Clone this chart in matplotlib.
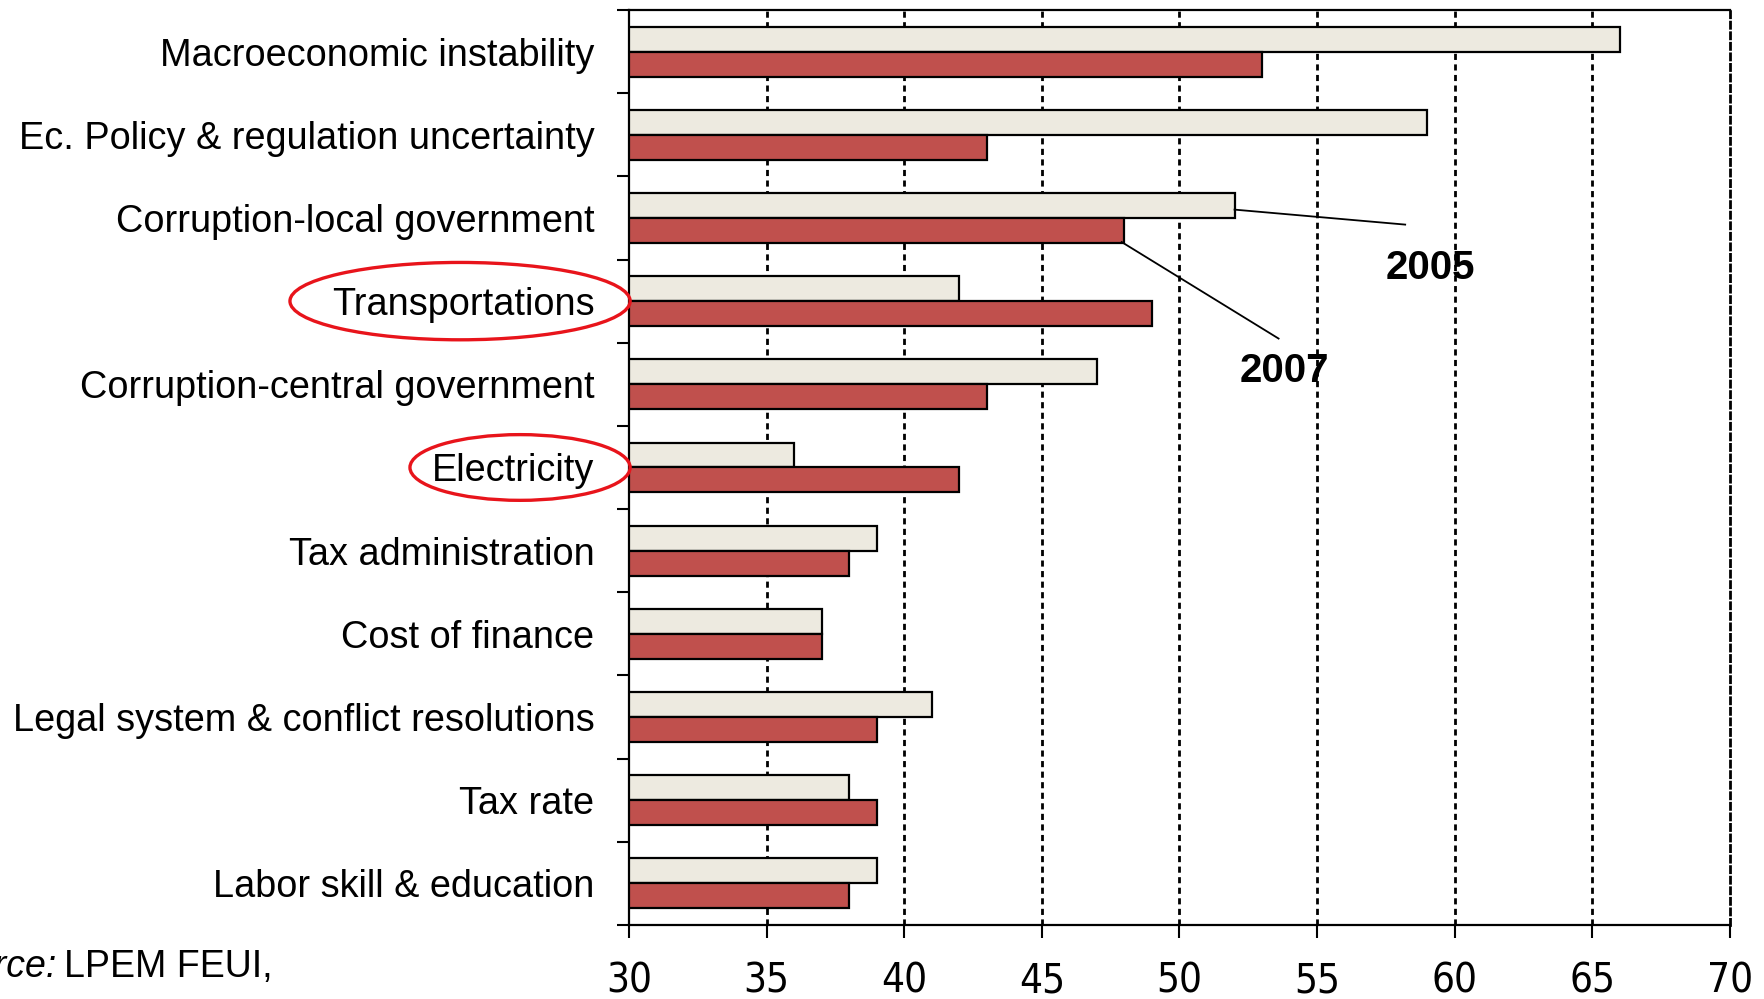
import matplotlib.pyplot as plt
import matplotlib.transforms as mtransforms
from matplotlib import font_manager
from matplotlib.patches import Ellipse
import numpy as np

categories = [
    "Macroeconomic instability",
    "Ec. Policy & regulation uncertainty",
    "Corruption-local government",
    "Transportations",
    "Corruption-central government",
    "Electricity",
    "Tax administration",
    "Cost of finance",
    "Legal system & conflict resolutions",
    "Tax rate",
    "Labor skill & education",
]
y2005 = [66, 59, 52, 42, 47, 36, 39, 37, 41, 38, 39]
y2007 = [53, 43, 48, 49, 43, 42, 38, 37, 39, 39, 38]
xticks = [30, 35, 40, 45, 50, 55, 60, 65, 70]
highlighted = ["Transportations", "Electricity"]

plt.rcParams["font.family"] = ["Liberation Sans", "DejaVu Sans"]


def narrow_font():
    # pick a condensed face for the axis numbers if one is installed
    names = {f.name for f in font_manager.fontManager.ttflist}
    if "Liberation Sans Narrow" in names:
        return dict(family="Liberation Sans Narrow")
    for f in font_manager.fontManager.ttflist:
        if f.name == "DejaVu Sans" and "condensed" in str(f.stretch).lower():
            return dict(family="DejaVu Sans", stretch="condensed")
    return dict(family="Liberation Sans")


fig = plt.figure(figsize=(17.64, 9.99), dpi=100)
ax = fig.add_axes([0.3566, 0.0741, 0.6241, 0.9159])

pos = np.arange(len(categories))
h = 0.3
ax.barh(pos - h / 2, [v - 30 for v in y2005], left=30, height=h,
        color="#EDEAE0", edgecolor="black", linewidth=1.6, zorder=3)
ax.barh(pos + h / 2, [v - 30 for v in y2007], left=30, height=h,
        color="#C0504D", edgecolor="black", linewidth=1.6, zorder=3)

ax.set_xlim(30, 70)
ax.set_ylim(len(categories) - 0.5, -0.5)

# dotted vertical grid
for x in xticks[1:-1]:
    ax.axvline(x, color="black", linewidth=2.0, linestyle=(0, (2.2, 1.6)), zorder=1)

# x ticks
ax.set_xticks(xticks)
ax.set_xticklabels([str(t) for t in xticks], fontsize=29, **narrow_font())
ax.tick_params(axis="x", direction="out", length=9, width=1.5, pad=17)

# y ticks at group boundaries, labels at group centers
ax.set_yticks(np.arange(-0.5, len(categories), 1.0))
ax.set_yticklabels([])
ax.set_yticks(pos, minor=True)
ax.set_yticklabels(categories, minor=True, fontsize=27.3)
ax.tick_params(axis="y", which="major", direction="out", length=9, width=1.5)
ax.tick_params(axis="y", which="minor", length=0, pad=25)

for side in ["left", "bottom", "top"]:
    ax.spines[side].set_linewidth(1.6)
ax.spines["right"].set_linewidth(2.0)
ax.spines["right"].set_linestyle((0, (2.2, 1.6)))

# series callouts
ax.plot([52, 58.2], [1.9, 2.08], color="black", linewidth=1.3, zorder=4)
ax.text(59.1, 2.6, "2005", ha="center", va="center", fontsize=29,
        fontweight="bold", zorder=4)
ax.plot([47.9, 53.6], [2.29, 3.45], color="black", linewidth=1.3, zorder=4)
ax.text(53.8, 3.84, "2007", ha="center", va="center", fontsize=29,
        fontweight="bold", zorder=4)

# red rings around highlighted labels
blend = mtransforms.blended_transform_factory(ax.transAxes, ax.transData)
rings = {"Transportations": (-0.1535, 0.309, 0.93),
         "Electricity": (-0.099, 0.2, 0.79)}
for name in highlighted:
    cx, w, hh = rings[name]
    ax.add_patch(Ellipse((cx, categories.index(name)), w, hh, transform=blend,
                         fill=False, edgecolor="#E8141B", linewidth=2.4,
                         clip_on=False, zorder=5))

fig.text(57 / 1764, 1 - 977 / 999, "Source:", ha="right", va="baseline",
         fontsize=27, style="italic")
fig.text(64 / 1764, 1 - 977 / 999, "LPEM FEUI,", ha="left", va="baseline",
         fontsize=27)

fig.savefig("out.png", dpi=100)
